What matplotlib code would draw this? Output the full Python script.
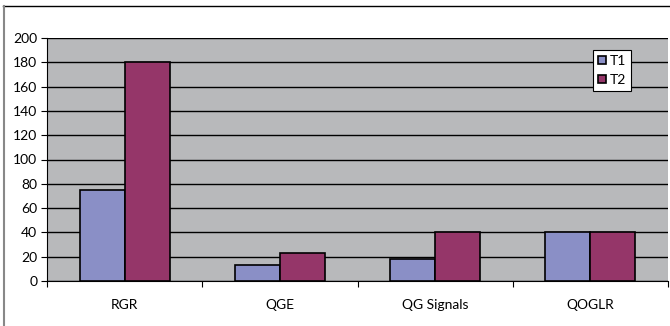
import matplotlib
matplotlib.use("Agg")
import matplotlib.pyplot as plt
import numpy as np
from matplotlib.lines import Line2D

plt.rcParams['font.family'] = ['Lato', 'DejaVu Sans']

categories = ["RGR", "QGE", "QG Signals", "QOGLR"]
t1 = [75, 13, 18, 40]
t2 = [180, 23, 40, 40]
series_names = ["T1", "T2"]
yticks = [0, 20, 40, 60, 80, 100, 120, 140, 160, 180, 200]

fig = plt.figure(figsize=(6.70, 3.26), dpi=100)
fig.patch.set_facecolor("white")
# outer chart frame (partly cropped)
fig.add_artist(Line2D([0.005, 1.0], [1 - 6/326, 1 - 6/326], color="black", lw=1.0, transform=fig.transFigure))
fig.add_artist(Line2D([4/670, 4/670], [0, 1 - 6/326], color="#888888", lw=1.5, transform=fig.transFigure))

ax = fig.add_axes([47/670, 45/326, 621/670, 243/326])
ax.set_facecolor("#B8B9BB")

x = np.arange(len(categories))
w = 0.29
ax.bar(x - w/2, t1, width=w, color="#8A8FC6", edgecolor="black", linewidth=1.2, label=series_names[0], zorder=3)
ax.bar(x + w/2, t2, width=w, color="#953669", edgecolor="black", linewidth=1.2, label=series_names[1], zorder=3)

ax.set_xlim(-0.5, len(categories) - 0.5)
ax.set_ylim(0, 200)
ax.set_yticks(yticks)
ax.yaxis.grid(True, color="black", linewidth=1.0, zorder=1)
ax.set_axisbelow(True)

ax.set_xticks(x)
ax.set_xticklabels(categories, fontsize=10)
ax.tick_params(axis="x", which="major", length=0, pad=13)
ax.set_xticks(np.arange(-0.5, len(categories)), minor=True)
ax.tick_params(axis="x", which="minor", length=4, width=0.8, direction="out", color="black")
ax.tick_params(axis="y", length=4, width=0.8, direction="out", labelsize=10, pad=3)

for s in ["top", "right"]:
    ax.spines[s].set_visible(False)
ax.spines["left"].set_color("black")
ax.spines["bottom"].set_color("black")
ax.spines["left"].set_linewidth(0.8)
ax.spines["bottom"].set_linewidth(0.8)

leg = ax.legend(loc="upper left", bbox_to_anchor=((593 - 47) / 621, (281 - 50) / 243),
                frameon=True, fancybox=False, fontsize=10, handlelength=0.55, handleheight=0.55,
                handletextpad=0.3, borderpad=0.35, labelspacing=0.5, borderaxespad=0)
leg.get_frame().set_edgecolor("black")
leg.get_frame().set_linewidth(0.8)
leg.get_frame().set_facecolor("white")
leg.get_frame().set_alpha(1)

fig.savefig("out.png", dpi=100)
